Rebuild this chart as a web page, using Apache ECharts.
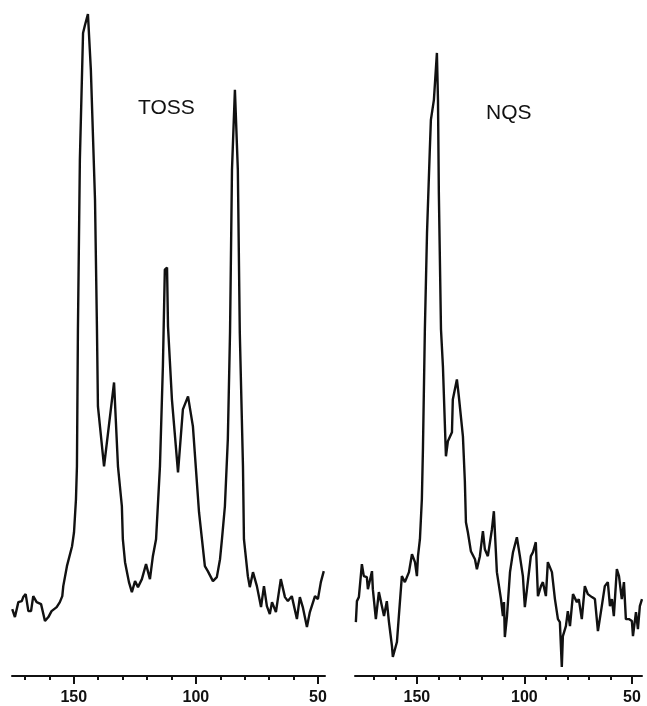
<!DOCTYPE html>
<html>
<head>
<meta charset="utf-8">
<script src="https://cdn.jsdelivr.net/npm/echarts@6/dist/echarts.min.js"></script>
<style>html,body{margin:0;padding:0;background:#fff}#c{width:647px;height:706px}</style>
</head>
<body>
<div id="c"></div>
<script>
// Chemical shift (ppm) and intensity (arbitrary units)
const tossPpm = [175.2,174.1,172.7,171.3,170.7,169.7,168.6,167.5,166.6,165.2,163.4,161.8,160.4,159.1,157.0,155.7,154.7,154.3,152.8,150.7,149.9,149.1,148.7,148.3,147.5,146.2,145.4,144.2,143.0,141.3,140.5,140.1,137.6,133.5,131.9,130.3,129.9,129.0,128.2,127.4,126.2,124.9,123.7,122.1,120.4,118.8,117.6,116.3,114.7,113.5,112.7,111.8,111.4,109.8,107.3,105.3,103.2,101.2,98.7,97.5,96.3,95.1,93.0,91.4,90.1,89.3,88.1,86.9,86.0,85.2,84.0,82.8,82.0,80.7,80.3,78.7,77.9,76.6,75.0,73.3,72.1,70.9,69.7,68.8,67.2,65.2,63.5,62.3,60.7,58.6,57.4,56.2,54.5,53.3,51.2,50.0,48.8,47.6];
const tossInt = [67,59,74,75,79,82,65,65,80,74,72,55,59,65,69,74,80,90,110,130,144,177,210,347,517,644,652,663,607,477,347,270,210,294,210,170,137,114,104,94,84,95,89,97,112,97,120,137,210,310,407,409,350,277,204,267,280,250,164,137,110,105,95,99,117,137,170,237,344,507,587,507,344,210,137,100,89,104,90,69,90,70,62,74,64,97,79,75,80,57,79,69,49,64,80,77,94,105];

const nqsPpm = [178.4,177.9,177.0,175.6,174.7,173.3,172.8,170.9,170.5,169.1,167.7,166.3,165.3,164.0,163.0,161.6,161.2,159.3,158.4,157.0,155.6,153.7,152.3,150.9,150.0,149.5,148.6,147.7,147.2,146.3,145.3,144.0,143.5,142.1,140.7,140.2,139.8,138.8,137.9,136.5,135.6,133.7,133.3,131.4,130.5,128.6,127.7,127.2,126.3,124.9,123.0,122.1,120.7,119.3,118.4,117.0,115.1,114.2,112.8,110.9,110.0,109.5,109.1,108.1,106.7,105.3,103.5,102.1,100.7,99.8,98.8,97.0,96.0,94.7,93.7,92.3,91.4,90.0,89.1,87.2,85.8,84.4,83.5,82.6,82.1,80.7,79.8,78.8,77.4,75.6,74.7,73.3,71.9,70.5,68.6,67.2,65.8,64.0,62.6,61.2,60.2,59.3,58.4,57.0,56.0,54.7,53.7,52.8,51.4,50.0,49.5,48.1,47.2,46.3,45.3];
const nqsInt = [54,75,79,112,100,99,87,105,87,57,84,70,60,75,54,30,19,34,60,100,94,104,122,114,100,120,137,177,227,347,444,527,557,577,624,577,484,347,310,220,235,244,277,297,280,240,195,154,144,125,117,107,120,145,127,120,147,165,104,77,60,74,39,60,104,124,139,120,100,69,87,120,124,134,80,90,94,80,114,104,77,57,54,9,40,50,65,50,82,74,77,57,90,82,79,77,45,70,90,94,70,77,60,107,100,77,94,57,57,55,40,64,47,70,77];

const minorTicks = [50,60,70,80,90,100,110,120,130,140,150,160,170];
const majorTicks = [50,100,150];
const panelTitles = ['TOSS','NQS'];

const chart = echarts.init(document.getElementById('c'));
const font = 'Liberation Sans, Arial, sans-serif';
function xAxes(gridIndex, min, max) {
  return [
    { type:'value', gridIndex, min, max, inverse:true, position:'bottom',
      axisLine:{show:true, lineStyle:{color:'#111', width:2}},
      axisTick:{show:true, customValues:minorTicks, length:4, lineStyle:{color:'#111', width:2}},
      axisLabel:{show:false}, splitLine:{show:false} },
    { type:'value', gridIndex, min, max, inverse:true, position:'bottom',
      axisLine:{show:false},
      axisTick:{show:true, customValues:majorTicks, length:8, lineStyle:{color:'#111', width:2}},
      axisLabel:{show:true, customValues:majorTicks, margin:14, color:'#111', fontSize:16, fontWeight:'bold', fontFamily:font},
      splitLine:{show:false} }
  ];
}
chart.setOption({
  animation:false,
  backgroundColor:'#fff',
  title:[
    {text:panelTitles[0], left:133, top:93, textStyle:{fontSize:21, fontWeight:'normal', color:'#111', fontFamily:font}},
    {text:panelTitles[1], left:481, top:98, textStyle:{fontSize:21, fontWeight:'normal', color:'#111', fontFamily:font}}
  ],
  grid:[
    {left:12, width:313, top:0, bottom:29},
    {left:355, width:287, top:0, bottom:29}
  ],
  xAxis:[...xAxes(0, 47.1, 175.3), ...xAxes(1, 45.3, 178.8)],
  yAxis:[
    {type:'value', gridIndex:0, min:0, max:677, show:false},
    {type:'value', gridIndex:1, min:0, max:677, show:false}
  ],
  series:[
    {type:'line', xAxisIndex:0, yAxisIndex:0, data:tossPpm.map((p,i)=>[p,tossInt[i]]), symbol:'none', lineStyle:{color:'#111', width:2.4}},
    {type:'line', xAxisIndex:2, yAxisIndex:1, data:nqsPpm.map((p,i)=>[p,nqsInt[i]]), symbol:'none', lineStyle:{color:'#111', width:2.4}}
  ]
});
</script>
</body>
</html>
